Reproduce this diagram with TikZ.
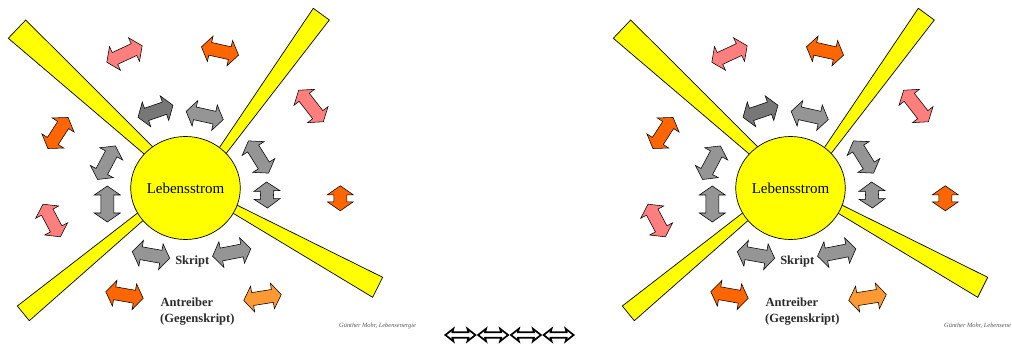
\documentclass[tikz,border=0pt]{standalone}
\usepackage{fontspec}
\setmainfont{Liberation Serif}
\usetikzlibrary{shapes.geometric}
\definecolor{sunyellow}{HTML}{FFFF00}
\definecolor{pinkarr}{HTML}{FF7F7F}
\definecolor{orangearr}{HTML}{FF6600}
\definecolor{lightorangearr}{HTML}{FF9933}
\definecolor{darkgrayarr}{HTML}{777777}
\definecolor{grayarr}{HTML}{959595}
\definecolor{txtgray}{HTML}{2A2A2A}
\definecolor{footgray}{HTML}{555555}
\tikzset{
  beam/.style={fill=sunyellow,draw=black,line width=0.7pt,line join=miter},
  sun/.style={ellipse,fill=sunyellow,draw=black,line width=0.7pt,minimum width=107pt,minimum height=103pt,inner sep=0pt,font=\fontsize{15}{17}\selectfont},
  arrline/.style={draw=black,line width=0.55pt,line join=miter},
  outarr/.style={draw=black,fill=white,line width=1.7pt,line join=miter},
  boldlbl/.style={inner sep=0pt,text=txtgray,font=\fontsize{12.5}{14}\selectfont\bfseries},
  footlbl/.style={inner sep=0pt,anchor=west,text=footgray,font=\fontsize{6.4}{7}\selectfont\itshape}
}
% x, y, angle, length, colour
\newcommand{\dblarrow}[5]{%
  \pgfmathsetmacro\La{#4/2}\pgfmathsetmacro\Lb{#4/2-9}%
  \begin{scope}[shift={(#1,#2)},rotate=#3]
    \filldraw[arrline,fill=#5] (-\La,0) -- (-\Lb,13) -- (-\Lb,6.5) -- (\Lb,6.5) -- (\Lb,13)
      -- (\La,0) -- (\Lb,-13) -- (\Lb,-6.5) -- (-\Lb,-6.5) -- (-\Lb,-13) -- cycle;
  \end{scope}}
\newcommand{\outarrow}[2]{%
  \begin{scope}[shift={(#1,#2)}]
    \draw[outarr] (-15,0) -- (-7,6.3) -- (-8,2.8) -- (8,2.8) -- (7,6.3)
      -- (15,0) -- (7,-6.3) -- (8,-2.8) -- (-8,-2.8) -- (-7,-6.3) -- cycle;
  \end{scope}}
\newcommand{\lifepanel}[2]{%
  \begin{scope}[xshift=#2pt]
    % beams
    \filldraw[beam] (8.3,38.3) -- (25.7,20) -- (175,169) -- (170,176) -- cycle;
    \filldraw[beam] (313.3,8.3) -- (329.3,20) -- (209.5,175) -- (200.9,175) -- cycle;
    \filldraw[beam] (17.3,306) -- (29.3,320.7) -- (165,201.2) -- (165,191.8) -- cycle;
    \filldraw[beam] (382.7,277.3) -- (372.7,297.3) -- (205,196.3) -- (205,189.3) -- cycle;
    % sun
    \node[sun] (sun#1) at (185.5,188) {Lebensstrom};
    % arrows
    \dblarrow{124.5}{54}{25}{39}{pinkarr}
    \dblarrow{220}{51}{-12.6}{38}{orangearr}
    \dblarrow{155.5}{111.3}{19}{37}{darkgrayarr}
    \dblarrow{204.7}{115.5}{-12.5}{38}{grayarr}
    \dblarrow{58}{133}{57}{37}{orangearr}
    \dblarrow{106.5}{162.7}{62}{38}{grayarr}
    \dblarrow{107.3}{204}{90}{36}{grayarr}
    \dblarrow{51.7}{220.5}{118}{37}{pinkarr}
    \dblarrow{311}{106}{128}{40}{pinkarr}
    \dblarrow{258.5}{157}{122}{38}{grayarr}
    \dblarrow{267}{195}{92}{26}{grayarr}
    \dblarrow{340.3}{198.3}{90}{25}{orangearr}
    \dblarrow{151}{255}{-10}{38}{grayarr}
    \dblarrow{231.7}{252.5}{11}{39}{grayarr}
    \dblarrow{124.5}{295}{-10}{38}{orangearr}
    \dblarrow{262.5}{297.5}{9}{38}{lightorangearr}
    % labels
    \node[boldlbl] (skript#1) at (192.3,261.7) {Skript};
    \node[boldlbl,anchor=base west] (antr#1) at (160.5,307) {Antreiber};
    \node[boldlbl,anchor=base west] (gegen#1) at (160,322.6) {(Gegenskript)};
  \end{scope}}
\begin{document}
\begin{tikzpicture}[x=1pt,y=-1pt]
  \useasboundingbox (0,0) rectangle (1012,347);
  \lifepanel{L}{0}
  \lifepanel{R}{605}
  \node[footlbl] (footL) at (339,325.5) {Günther Mohr, Lebensenergie};
  \node[footlbl] (footR) at (944,325.5) {Günther Mohr, Lebensene};
  \outarrow{460.4}{335}
  \outarrow{493.1}{335}
  \outarrow{525.9}{335}
  \outarrow{558.6}{335}
\end{tikzpicture}
\end{document}
